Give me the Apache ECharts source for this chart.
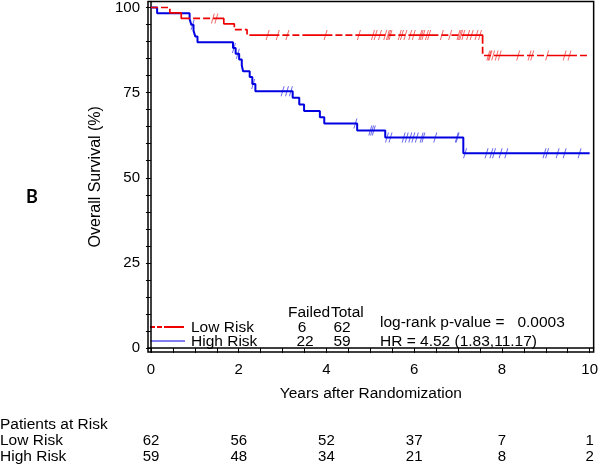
<!DOCTYPE html>
<html><head><meta charset="utf-8">
<script src="https://cdn.jsdelivr.net/npm/echarts@6/dist/echarts.min.js"></script>
<style>html,body{margin:0;padding:0;background:#fff}#c{width:601px;height:465px}</style>
</head><body><div id="c"></div>
<script>
// ---- data ----
const lowRiskTimes = [0, 0.43, 0.69, 1.66, 1.90, 2.19, 7.56];
const lowRiskSurv  = [100, 98.4, 96.8, 95.2, 93.5, 91.9, 85.9];
const highRiskTimes = [0, 0.14, 0.88, 0.92, 0.97, 1.01, 1.06, 1.87, 1.93, 2.01, 2.07, 2.10, 2.25, 2.31, 2.38, 3.23, 3.38, 3.49, 3.85, 3.95, 4.70, 5.34, 7.12];
const highRiskSurv  = [100, 98.3, 96.6, 94.9, 93.2, 91.5, 89.8, 88.1, 86.4, 84.7, 83.0, 81.3, 79.6, 77.5, 75.4, 73.5, 71.5, 69.6, 67.8, 65.9, 63.9, 61.8, 57.2];
const lowRiskCensor = [1.41, 1.49, 2.66, 2.89, 3.11, 3.98, 4.74, 5.06, 5.12, 5.22, 5.34, 5.40, 5.43, 5.46, 5.67, 5.72, 5.80, 5.91, 5.99, 6.14, 6.17, 6.21, 6.29, 6.34, 6.63, 6.82, 7.01, 7.04, 7.07, 7.12, 7.23, 7.31, 7.42, 7.50, 7.69, 7.72, 7.74, 7.80, 7.88, 7.95, 8.37, 8.63, 8.69, 9.03, 9.43, 9.54];
const highRiskCensor = [0.95, 1.89, 1.98, 2.33, 3.00, 3.10, 3.19, 4.66, 5.00, 5.04, 5.08, 5.38, 5.46, 5.76, 5.83, 5.91, 5.98, 6.06, 6.17, 6.21, 6.48, 6.97, 6.99, 7.16, 7.65, 7.76, 7.82, 7.97, 8.10, 8.97, 9.03, 9.27, 9.43, 9.77];
const followUpEnd = 10;
const groupNames = ['Low Risk', 'High Risk'];
const failedCounts = [6, 22];
const totalCounts = [62, 59];
const statTexts = ['log-rank p-value =   0.0003', 'HR = 4.52 (1.83,11.17)'];
const riskTimes = [0, 2, 4, 6, 8, 10];
const lowAtRisk = [62, 56, 52, 37, 7, 1];
const highAtRisk = [59, 48, 34, 21, 8, 2];
const xTickLabels = [0, 2, 4, 6, 8, 10];
const xTicks = [0, 0.5, 1, 1.5, 2, 2.5, 3, 3.5, 4, 4.5, 5, 5.5, 6, 6.5, 7, 7.5, 8, 8.5, 9, 9.5, 10];
const yTickLabels = [0, 25, 50, 75, 100];
const yTicks = [0, 5, 10, 15, 20, 25, 30, 35, 40, 45, 50, 55, 60, 65, 70, 75, 80, 85, 90, 95, 100];

// ---- helpers ----
const FONT = 'Liberation Sans, Arial, sans-serif';
const RED = '#ee0000', BLUE = '#0000e0';
function survAt(times, surv, t) { let s = surv[0]; for (let i = 0; i < times.length; i++) { if (times[i] <= t) s = surv[i]; } return s; }
function stepData(times, surv) { const d = times.map((t, i) => [t, surv[i]]); d.push([followUpEnd, surv[surv.length - 1]]); return d; }
function censorData(cens, times, surv) { return cens.map(t => [t, survAt(times, surv, t)]); }
const tickMark = 'path://M3,0 L4,0 L1,10 L0,10 Z';

const chart = echarts.init(document.getElementById('c'), null, { renderer: 'canvas' });
const XMIN = -0.068, XMAX = 10.091;
function riskAxis(values, offset) {
  return {
    type: 'value', gridIndex: 0, position: 'bottom', offset: offset, min: XMIN, max: XMAX,
    axisLine: { show: false }, axisTick: { show: false }, splitLine: { show: false },
    axisLabel: { customValues: riskTimes, margin: 1, fontSize: 15, color: '#000', fontFamily: FONT,
      formatter: v => { const i = riskTimes.indexOf(v); return i >= 0 ? String(values[i]) : ''; } }
  };
}
const option = {
  animation: false,
  backgroundColor: '#fff',
  grid: { left: 148, right: 5, top: 1, bottom: 113, show: true, borderColor: '#000', borderWidth: 1.5 },
  xAxis: [{
    type: 'value', min: XMIN, max: XMAX, position: 'bottom',
    axisLine: { lineStyle: { color: '#000', width: 1.5 } },
    axisTick: { customValues: xTicks, length: 5, lineStyle: { color: '#000', width: 1 } },
    axisLabel: { customValues: xTickLabels, margin: 10, fontSize: 15, color: '#000', fontFamily: FONT },
    splitLine: { show: false },
    name: 'Years after Randomization', nameLocation: 'middle', nameGap: 34,
    nameTextStyle: { fontSize: 15.5, color: '#000', fontFamily: FONT }
  }, riskAxis(lowAtRisk, 80), riskAxis(highAtRisk, 96)],
  yAxis: {
    type: 'value', min: -1.17, max: 101.76,
    axisLine: { lineStyle: { color: '#000', width: 1.5 } },
    axisTick: { customValues: yTicks, length: 5, lineStyle: { color: '#000', width: 1 } },
    axisLabel: { customValues: yTickLabels, margin: 8, fontSize: 15, color: '#000', fontFamily: FONT },
    splitLine: { show: false },
    name: 'Overall Survival (%)', nameLocation: 'middle', nameRotate: 90, nameGap: 37,
    nameTextStyle: { fontSize: 16, color: '#000', fontFamily: FONT }
  },
  series: [
    { type: 'line', name: groupNames[0], step: 'end', symbol: 'none', data: stepData(lowRiskTimes, lowRiskSurv),
      lineStyle: { color: RED, width: 1.7, type: [7, 3, 7, 3, 30, 3] }, z: 3 },
    { type: 'line', name: groupNames[1], step: 'end', symbol: 'none', data: stepData(highRiskTimes, highRiskSurv),
      lineStyle: { color: BLUE, width: 2 }, z: 2 },
    { type: 'scatter', symbol: tickMark, symbolSize: [4, 10], data: censorData(lowRiskCensor, lowRiskTimes, lowRiskSurv),
      itemStyle: { color: RED, opacity: 0.6 }, z: 4 },
    { type: 'scatter', symbol: tickMark, symbolSize: [4, 10], data: censorData(highRiskCensor, highRiskTimes, highRiskSurv),
      itemStyle: { color: BLUE, opacity: 0.6 }, z: 4 }
  ],
  graphic: [
    { type: 'line', shape: { x1: 150, y1: 327, x2: 185, y2: 327 }, style: { stroke: RED, lineWidth: 2, lineDash: [5, 2, 5, 2, 20, 2] } },
    { type: 'line', shape: { x1: 150, y1: 341, x2: 185, y2: 341 }, style: { stroke: BLUE, lineWidth: 1 } },
    { type: 'text', x: 191, y: 328, style: { text: groupNames[0], font: '15.5px ' + FONT, fill: '#000', verticalAlign: 'middle' } },
    { type: 'text', x: 191, y: 342, style: { text: groupNames[1], font: '15.5px ' + FONT, fill: '#000', verticalAlign: 'middle' } },
    { type: 'text', x: 288, y: 313, style: { text: 'Failed', font: '15.5px ' + FONT, fill: '#000', verticalAlign: 'middle' } },
    { type: 'text', x: 331, y: 313, style: { text: 'Total', font: '15.5px ' + FONT, fill: '#000', verticalAlign: 'middle' } },
    { type: 'text', x: 302, y: 328, style: { text: String(failedCounts[0]), font: '15.5px ' + FONT, fill: '#000', align: 'center', verticalAlign: 'middle' } },
    { type: 'text', x: 305, y: 342, style: { text: String(failedCounts[1]), font: '15.5px ' + FONT, fill: '#000', align: 'center', verticalAlign: 'middle' } },
    { type: 'text', x: 342, y: 328, style: { text: String(totalCounts[0]), font: '15.5px ' + FONT, fill: '#000', align: 'center', verticalAlign: 'middle' } },
    { type: 'text', x: 342, y: 342, style: { text: String(totalCounts[1]), font: '15.5px ' + FONT, fill: '#000', align: 'center', verticalAlign: 'middle' } },
    { type: 'text', x: 380, y: 323, style: { text: statTexts[0], font: '15.5px ' + FONT, fill: '#000', verticalAlign: 'middle' } },
    { type: 'text', x: 380, y: 342, style: { text: statTexts[1], font: '15.5px ' + FONT, fill: '#000', verticalAlign: 'middle' } },
    { type: 'text', x: 0, y: 425, style: { text: 'Patients at Risk', font: '15.5px ' + FONT, fill: '#000', verticalAlign: 'middle' } },
    { type: 'text', x: 0, y: 441, style: { text: groupNames[0], font: '15.5px ' + FONT, fill: '#000', verticalAlign: 'middle' } },
    { type: 'text', x: 0, y: 457, style: { text: groupNames[1], font: '15.5px ' + FONT, fill: '#000', verticalAlign: 'middle' } },
    { type: 'text', x: 26, y: 197, style: { text: 'B', font: 'bold 18px Lato, "Open Sans", sans-serif', fill: '#000', verticalAlign: 'middle' } }
  ]
};
chart.setOption(option);
</script>
</body></html>
